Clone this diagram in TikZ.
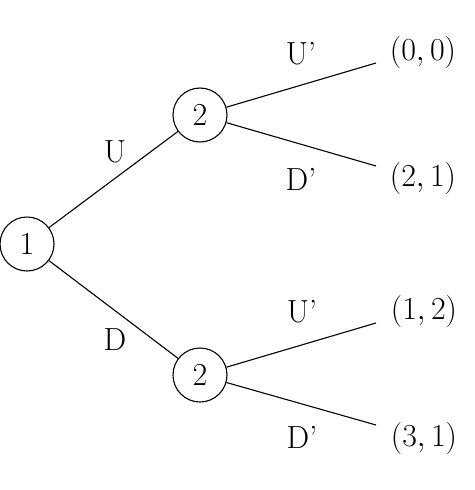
\RequirePackage{fix-cm}
\documentclass[tikz,border=0pt]{standalone}
\usepackage{amsmath,amssymb}
\usepackage{tikz}
\usetikzlibrary{positioning,calc}

\begin{document}
\begin{tikzpicture}[x=1pt, y=-1pt, line width=1.1pt,
  player/.style={draw, circle, minimum size=54pt, inner sep=0pt, font=\fontsize{32}{38}\selectfont},
  lbl/.style={font=\fontsize{32}{38}\selectfont}]
\useasboundingbox (0,0) rectangle (474,490);
\node[player] (root) at (27,244) {1};
\node[player] (up) at (200,115) {2};
\node[player] (down) at (200,375) {2};
\coordinate (uu) at (376,63);
\coordinate (ud) at (376,166);
\coordinate (du) at (376,323);
\coordinate (dd) at (376,425);
\draw (root) -- (up);
\draw (root) -- (down);
\draw (up) -- (uu);
\draw (up) -- (ud);
\draw (down) -- (du);
\draw (down) -- (dd);
\node[lbl] (lU) at (115,152) {U};
\node[lbl] (lD) at (115,340) {D};
\node[lbl] (lUU) at (301,54) {U'};
\node[lbl] (lUD) at (301,179) {D'};
\node[lbl] (lDU) at (302,312) {U'};
\node[lbl] (lDD) at (302,437) {D'};
\node[lbl] (p1) at (423,52) {$(0,0)$};
\node[lbl] (p2) at (423,178) {$(2,1)$};
\node[lbl] (p3) at (424,311) {$(1,2)$};
\node[lbl] (p4) at (424,438) {$(3,1)$};
\end{tikzpicture}
\end{document}
